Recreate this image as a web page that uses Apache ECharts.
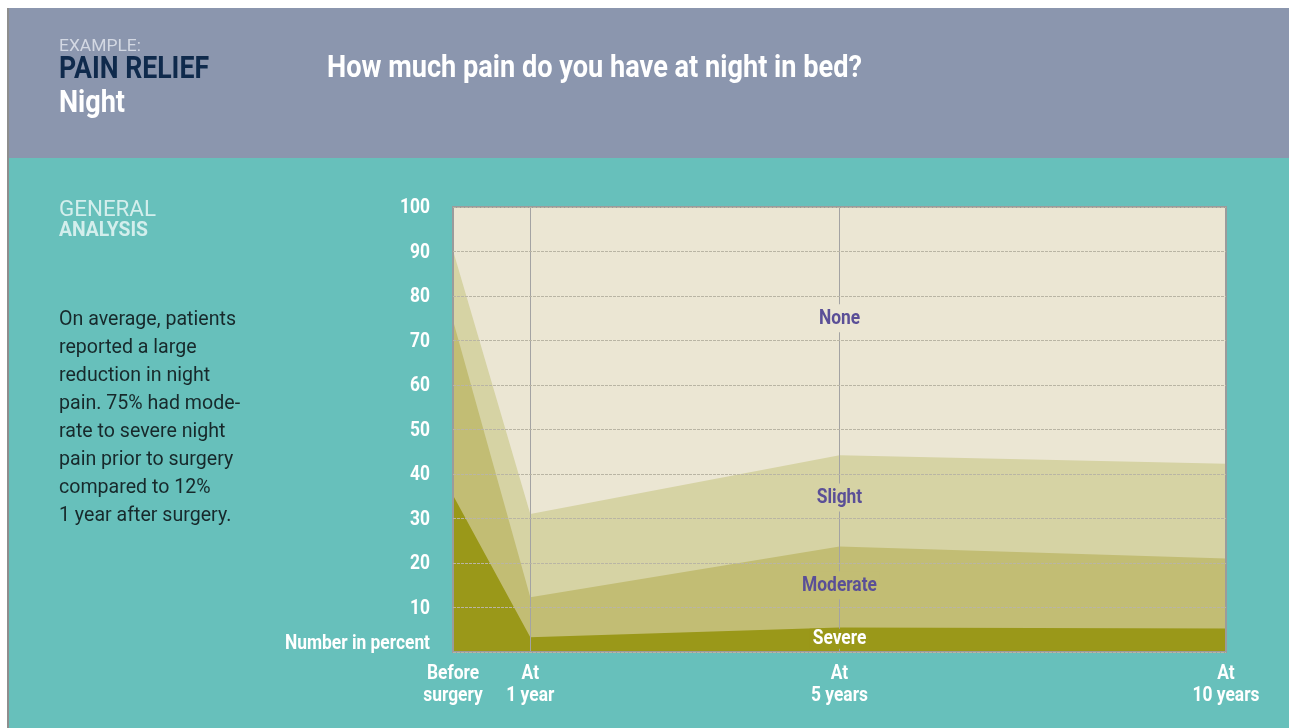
<!DOCTYPE html>
<html><head><meta charset="utf-8">
<script src="https://cdn.jsdelivr.net/npm/echarts@6/dist/echarts.min.js"></script>
<style>
html,body{margin:0;padding:0;background:#fff;}
#c{width:1289px;height:728px;}
</style></head><body><div id="c"></div>
<script>
// ---- data ----
const xPoints = [0, 1, 5, 10];
const xTickLines = {0: ['Before', 'surgery'], 1: ['At', '1 year'], 5: ['At', '5 years'], 10: ['At', '10 years']};
const severe   = [35.2, 3.3, 5.5, 5.3];
const moderate = [39.3, 9.0, 18.2, 15.7];
const slight   = [15.7, 18.7, 20.5, 21.3];
const none     = [9.8, 69.0, 55.8, 57.7];
const seriesNames = ['Severe', 'Moderate', 'Slight', 'None'];
const bandLabels = [ {name: 'None', x: 5, y: 75}, {name: 'Slight', x: 5, y: 34.7}, {name: 'Moderate', x: 5, y: 15}, {name: 'Severe', x: 5, y: 3} ];
const yTicks = [10,20,30,40,50,60,70,80,90,100];
const yAxisName = 'Number in percent';
const markX = [1, 5];
const paragraph = ['On average, patients','reported a large','reduction in night','pain. 75% had mode-','rate to severe night','pain prior to surgery','compared to 12%','1 year after surgery.'];

const FONT = 'Roboto, "Noto Sans", "DejaVu Sans", sans-serif';
const colors = {Severe: '#9a9819', Moderate: '#c2bd74', Slight: '#d6d3a4', None: '#ebe6d3'};
const labelColor = {Severe: '#ffffff', Moderate: '#5a4f97', Slight: '#5a4f97', None: '#5a4f97'};

// cumulative tops (bottom band first)
const vals = [severe, moderate, slight, none];
const cum = [];
vals.forEach((arr, i) => cum.push(arr.map((v, j) => (i ? cum[i-1][j] : 0) + v)));

const chart = echarts.init(document.getElementById('c'));

// draw from top band down so lower bands cover upper ones
const series = [];
for (let i = 3; i >= 0; i--) {
  const n = seriesNames[i];
  series.push({
    name: n, type: 'line', symbol: 'none', smooth: false,
    lineStyle: {width: 0}, areaStyle: {color: colors[n], opacity: 1, origin: 'start'},
    data: xPoints.map((x, j) => [x, Math.min(100, cum[i][j])]),
    markLine: i === 0 ? {
      silent: true, symbol: 'none', label: {show: false},
      lineStyle: {color: '#a3a3a3', width: 1, type: 'solid'},
      data: markX.map(v => ({xAxis: v}))
    } : undefined
  });
}

chart.setOption({
  animation: false,
  backgroundColor: 'transparent',
  grid: {left: 453, right: 63, top: 207, bottom: 76, show: true, borderColor: '#9b9b9b', borderWidth: 2, backgroundColor: 'transparent', z: 10},
  xAxis: {type: 'value', min: 0, max: 10, interval: 1, axisLine: {show: false}, axisTick: {show: false}, splitLine: {show: false}, axisLabel: {show: false}},
  yAxis: {type: 'value', min: 0, max: 100, interval: 10, z: 10, axisLine: {show: false}, axisTick: {show: false},
    splitLine: {show: true, lineStyle: {color: '#b9b5a4', type: [3, 1], width: 1}}, axisLabel: {show: false}},
  series: series
});

// ---- text measuring helpers (condensed look via horizontal scale) ----
const ctx = document.createElement('canvas').getContext('2d');
function measure(t, size, weight) { ctx.font = (weight || 'normal') + ' ' + size + 'px ' + FONT; return ctx.measureText(t).width; }
function txt(x, y, t, size, color, weight, sx, align, valign, extra) {
  return Object.assign({
    type: 'text', x: x, y: y, scaleX: sx, scaleY: 1, z: 100,
    style: {text: t, fontFamily: FONT, fontSize: size, fill: color, fontWeight: weight || 'normal',
      textAlign: align || 'left', textVerticalAlign: valign || 'middle'}
  }, extra || {});
}
const fit = (t, size, weight, w) => w / measure(t, size, weight);

const labSize = 21;
const labScale = fit(yAxisName, labSize, 'bold', 145);
const paraSize = 21;
const paraScale = fit(paragraph[0], paraSize, 'normal', 177);

const g = [
  {type: 'rect', x: 0, y: 0, shape: {width: 1289, height: 728}, style: {fill: '#ffffff'}, z: -10},
  {type: 'rect', x: 8, y: 8, shape: {width: 1281, height: 150}, style: {fill: '#8b96ae'}, z: -9},
  {type: 'rect', x: 8, y: 158, shape: {width: 1281, height: 570}, style: {fill: '#67c0bb'}, z: -9},
  {type: 'rect', x: 7, y: 8, shape: {width: 2, height: 720}, style: {fill: '#8e8e8e'}, z: -8},
  txt(59, 47, 'EXAMPLE:', 17, '#d3d8e3', 'normal', fit('EXAMPLE:', 17, 'normal', 82)),
  txt(59, 70, 'PAIN RELIEF', 32, '#0f2a4c', 'bold', fit('PAIN RELIEF', 32, 'bold', 150)),
  txt(59, 104, 'Night', 32, '#ffffff', 'bold', fit('Night', 32, 'bold', 66)),
  txt(327, 69, 'How much pain do you have at night in bed?', 31, '#ffffff', 'bold', fit('How much pain do you have at night in bed?', 31, 'bold', 535)),
  txt(59, 210, 'GENERAL', 22, '#d3eeec', 'normal', fit('GENERAL', 22, 'normal', 97)),
  txt(59, 231, 'ANALYSIS', 21, '#d3eeec', 'bold', fit('ANALYSIS', 21, 'bold', 89))
];
paragraph.forEach((line, k) => g.push(txt(59, 320 + k * 27.9, line, paraSize, '#17292b', 'normal', paraScale)));

// y tick labels via axis scale
yTicks.forEach(v => {
  const p = chart.convertToPixel({gridIndex: 0}, [0, v]);
  g.push(txt(p[0] - 23, p[1] + 1, String(v), labSize, '#ffffff', 'bold', labScale, 'right'));
});
const p0 = chart.convertToPixel({gridIndex: 0}, [0, 0]);
g.push(txt(p0[0] - 23, p0[1] - 8, yAxisName, labSize, '#ffffff', 'bold', labScale, 'right'));

// x tick labels via axis scale
xPoints.forEach(x => {
  const p = chart.convertToPixel({gridIndex: 0}, [x, 0]);
  const lines = xTickLines[x];
  g.push(txt(p[0], p[1] + 22, lines[0], labSize, '#ffffff', 'bold', labScale, 'center'));
  g.push(txt(p[0], p[1] + 44, lines[1], labSize, '#ffffff', 'bold', labScale, 'center'));
});

// band labels with background chip (breaks the vertical line like the original)
bandLabels.forEach(b => {
  const p = chart.convertToPixel({gridIndex: 0}, [b.x, b.y]);
  const w = measure(b.name, labSize, 'bold') * labScale + 6;
  const h = b.name === 'Severe' ? 20 : 28;
  g.push({type: 'rect', x: p[0] - w / 2, y: p[1] - h / 2, shape: {width: w, height: h}, style: {fill: colors[b.name]}, z: 99});
  g.push(txt(p[0], p[1], b.name, labSize, labelColor[b.name], 'bold', labScale, 'center'));
});

chart.setOption({graphic: g});
</script></body></html>
